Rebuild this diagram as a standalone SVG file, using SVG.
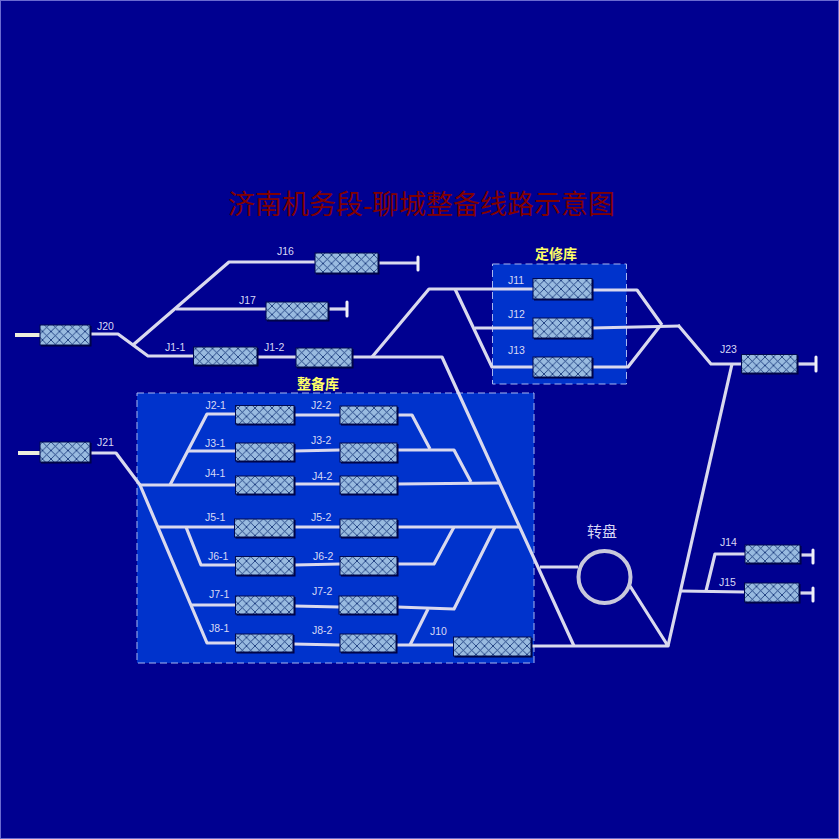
<svg xmlns="http://www.w3.org/2000/svg" width="839" height="839" viewBox="0 0 839 839">
<style>
.trk{fill:none;stroke:#d9d9ee;stroke-width:3.2;stroke-linejoin:round}
.lead{fill:none;stroke:#eeeedd;stroke-width:4}
.cap{fill:none;stroke:#f0f0f8;stroke-width:3;stroke-linecap:round}
.pnl{fill:#0033cc;stroke:#a8b8f0;stroke-width:1;stroke-dasharray:7 4}
.box{fill:url(#hatch);stroke:#000a50;stroke-width:1}
.shd{fill:#000040}
text{font-family:"Liberation Sans","Noto Sans CJK SC",sans-serif}
.lbl{font-size:10.5px;fill:#d8d8f4}
.zone{font-family:"Noto Sans CJK SC",sans-serif;font-size:14px;font-weight:700;fill:#ffff66;text-anchor:middle}
.tbl{font-family:"Noto Sans CJK SC",sans-serif;font-size:15px;fill:#d8d8f4;text-anchor:middle}
.ttl{font-family:"Liberation Serif","Noto Sans CJK SC",serif;font-size:27px;fill:#800000;text-anchor:middle}
</style>
<defs>
<pattern id="hatch" width="8.5" height="8.5" patternUnits="userSpaceOnUse">
<rect width="8.5" height="8.5" fill="#99bbe0"/>
<path d="M0 0L8.5 8.5M8.5 0L0 8.5" stroke="#0a2a70" stroke-width="0.8"/>
</pattern>
</defs>
<rect width="839" height="839" fill="#000090"/>
<rect x="0.5" y="0.5" width="838" height="838" fill="none" stroke="#6a6ad0" stroke-width="1"/>
<rect class="pnl" x="137" y="393" width="397" height="270"/>
<rect class="pnl" x="492.5" y="264" width="134" height="120"/>
<text class="ttl" x="421.5" y="214">济南机务段-聊城整备线路示意图</text>
<text class="zone" x="318" y="389">整备库</text>
<text class="zone" x="556" y="259">定修库</text>
<text class="tbl" x="602" y="537">转盘</text>
<g id="connectors">
<path class="lead" d="M15 335H40"/>
<path class="lead" d="M18 453H40"/>
<path class="trk" d="M90 334H118L148 356H193"/>
<path class="trk" d="M133 345L229 262H315"/>
<path class="trk" d="M176 309H266"/>
<path class="trk" d="M257 357H296"/>
<path class="trk" d="M352 357H442L574 646"/>
<path class="trk" d="M372 357L429 289H533"/>
<path class="trk" d="M455 289L492 367H533"/>
<path class="trk" d="M475 328H533"/>
<path class="trk" d="M592 290H637L662 325"/>
<path class="trk" d="M592 328L680 326"/>
<path class="trk" d="M592 367H628L660 326"/>
<path class="trk" d="M678 325L711 364H742"/>
<path class="trk" d="M732 364L668 646"/>
<path class="trk" d="M681 591L744 592"/>
<path class="trk" d="M706 591L715 554H745"/>
<path class="trk" d="M531 646H668L630 586"/>
<path class="trk" d="M540 567H578"/>
<path class="trk" d="M90 453H116L140 485L207 643H235"/>
<path class="trk" d="M140 485H235"/>
<path class="trk" d="M170 485L207 414H235"/>
<path class="trk" d="M188 451H235"/>
<path class="trk" d="M158 527H235"/>
<path class="trk" d="M186 527L201 565H235"/>
<path class="trk" d="M192 605H235"/>
<path class="trk" d="M294 415H340"/>
<path class="trk" d="M294 451L340 450"/>
<path class="trk" d="M294 484H340"/>
<path class="trk" d="M294 527H340"/>
<path class="trk" d="M294 565L340 564"/>
<path class="trk" d="M294 606L339 607"/>
<path class="trk" d="M293 644L340 645"/>
<path class="trk" d="M397 415H412L430 449"/>
<path class="trk" d="M397 450H454L471 482"/>
<path class="trk" d="M397 484L499 483"/>
<path class="trk" d="M397 527H519"/>
<path class="trk" d="M397 564H434L454 527"/>
<path class="trk" d="M397 607L454 609L495 527"/>
<path class="trk" d="M428 609L410 645"/>
<path class="trk" d="M396 645H453"/>
<path class="trk" d="M378 263H418"/><path class="cap" d="M418 257V270"/>
<path class="trk" d="M328 309H347"/><path class="cap" d="M347 302V316"/>
<path class="trk" d="M797 364H816"/><path class="cap" d="M816 357V371"/>
<path class="trk" d="M800 555H813"/><path class="cap" d="M813 550V563"/>
<path class="trk" d="M799 593H813"/><path class="cap" d="M813 588V601"/>
</g>
<g id="turntable"><circle cx="604.500" cy="577" r="26" fill="none" stroke="#c8c8dc" stroke-width="4"/></g>
<g id="J20"><rect class="shd" x="41" y="326" width="50.500" height="20.500"/><rect class="box" x="40" y="325" width="50" height="20"/><text class="lbl" x="97" y="330">J20</text></g>
<g id="J21"><rect class="shd" x="41" y="443" width="50.500" height="20.500"/><rect class="box" x="40" y="442" width="50" height="20"/><text class="lbl" x="97" y="446">J21</text></g>
<g id="J16"><rect class="shd" x="316" y="254" width="63.500" height="20.500"/><rect class="box" x="315" y="253" width="63" height="20"/><text class="lbl" x="277" y="255">J16</text></g>
<g id="J17"><rect class="shd" x="267" y="303" width="62.500" height="18.500"/><rect class="box" x="266" y="302" width="62" height="18"/><text class="lbl" x="239" y="304">J17</text></g>
<g id="J1-1"><rect class="shd" x="194.500" y="348" width="64" height="18.500"/><rect class="box" x="193.500" y="347" width="63.500" height="18"/><text class="lbl" x="165" y="351">J1-1</text></g>
<g id="J1-2"><rect class="shd" x="297" y="349" width="56.500" height="19.500"/><rect class="box" x="296" y="348" width="56" height="19"/><text class="lbl" x="264" y="351">J1-2</text></g>
<g id="J2-1"><rect class="shd" x="236.500" y="406.500" width="59" height="19"/><rect class="box" x="235.500" y="405.500" width="58.500" height="18.500"/><text class="lbl" x="205.500" y="409">J2-1</text></g>
<g id="J2-2"><rect class="shd" x="341" y="407" width="57.500" height="18.500"/><rect class="box" x="340" y="406" width="57" height="18"/><text class="lbl" x="311" y="409">J2-2</text></g>
<g id="J3-1"><rect class="shd" x="236.500" y="444" width="59" height="18.500"/><rect class="box" x="235.500" y="443" width="58.500" height="18"/><text class="lbl" x="205" y="447">J3-1</text></g>
<g id="J3-2"><rect class="shd" x="341" y="444" width="57.500" height="19.500"/><rect class="box" x="340" y="443" width="57" height="19"/><text class="lbl" x="311" y="444">J3-2</text></g>
<g id="J4-1"><rect class="shd" x="236.500" y="477" width="59" height="18.500"/><rect class="box" x="235.500" y="476" width="58.500" height="18"/><text class="lbl" x="205" y="477">J4-1</text></g>
<g id="J4-2"><rect class="shd" x="341" y="477" width="57.500" height="18.500"/><rect class="box" x="340" y="476" width="57" height="18"/><text class="lbl" x="312" y="480">J4-2</text></g>
<g id="J5-1"><rect class="shd" x="235.500" y="520" width="60" height="18.500"/><rect class="box" x="234.500" y="519" width="59.500" height="18"/><text class="lbl" x="205" y="521">J5-1</text></g>
<g id="J5-2"><rect class="shd" x="341" y="520" width="57.500" height="18.500"/><rect class="box" x="340" y="519" width="57" height="18"/><text class="lbl" x="311" y="521">J5-2</text></g>
<g id="J6-1"><rect class="shd" x="236.500" y="557.500" width="59" height="19"/><rect class="box" x="235.500" y="556.500" width="58.500" height="18.500"/><text class="lbl" x="208" y="560">J6-1</text></g>
<g id="J6-2"><rect class="shd" x="341" y="557.500" width="57.500" height="19"/><rect class="box" x="340" y="556.500" width="57" height="18.500"/><text class="lbl" x="313" y="560">J6-2</text></g>
<g id="J7-1"><rect class="shd" x="236.500" y="597" width="59" height="18.500"/><rect class="box" x="235.500" y="596" width="58.500" height="18"/><text class="lbl" x="209" y="598">J7-1</text></g>
<g id="J7-2"><rect class="shd" x="340" y="597" width="58.500" height="18.500"/><rect class="box" x="339" y="596" width="58" height="18"/><text class="lbl" x="312" y="595">J7-2</text></g>
<g id="J8-1"><rect class="shd" x="236.500" y="635" width="58" height="18.500"/><rect class="box" x="235.500" y="634" width="57.500" height="18"/><text class="lbl" x="209" y="632">J8-1</text></g>
<g id="J8-2"><rect class="shd" x="341" y="635" width="56.500" height="18.500"/><rect class="box" x="340" y="634" width="56" height="18"/><text class="lbl" x="312" y="634">J8-2</text></g>
<g id="J10"><rect class="shd" x="454.500" y="638" width="78" height="19.500"/><rect class="box" x="453.500" y="637" width="77.500" height="19"/><text class="lbl" x="430" y="635">J10</text></g>
<g id="J11"><rect class="shd" x="534" y="279.500" width="59.500" height="21"/><rect class="box" x="533" y="278.500" width="59" height="20.500"/><text class="lbl" x="508" y="284">J11</text></g>
<g id="J12"><rect class="shd" x="534" y="319" width="59.500" height="20.500"/><rect class="box" x="533" y="318" width="59" height="20"/><text class="lbl" x="508" y="318">J12</text></g>
<g id="J13"><rect class="shd" x="534" y="358" width="59.500" height="20.500"/><rect class="box" x="533" y="357" width="59" height="20"/><text class="lbl" x="508" y="354">J13</text></g>
<g id="J23"><rect class="shd" x="742.500" y="355.500" width="56" height="19"/><rect class="box" x="741.500" y="354.500" width="55.500" height="18.500"/><text class="lbl" x="720" y="353">J23</text></g>
<g id="J14"><rect class="shd" x="746" y="546" width="55.500" height="18.500"/><rect class="box" x="745" y="545" width="55" height="18"/><text class="lbl" x="720" y="546">J14</text></g>
<g id="J15"><rect class="shd" x="745.500" y="584" width="55" height="19.500"/><rect class="box" x="744.500" y="583" width="54.500" height="19"/><text class="lbl" x="719" y="586">J15</text></g>
</svg>
